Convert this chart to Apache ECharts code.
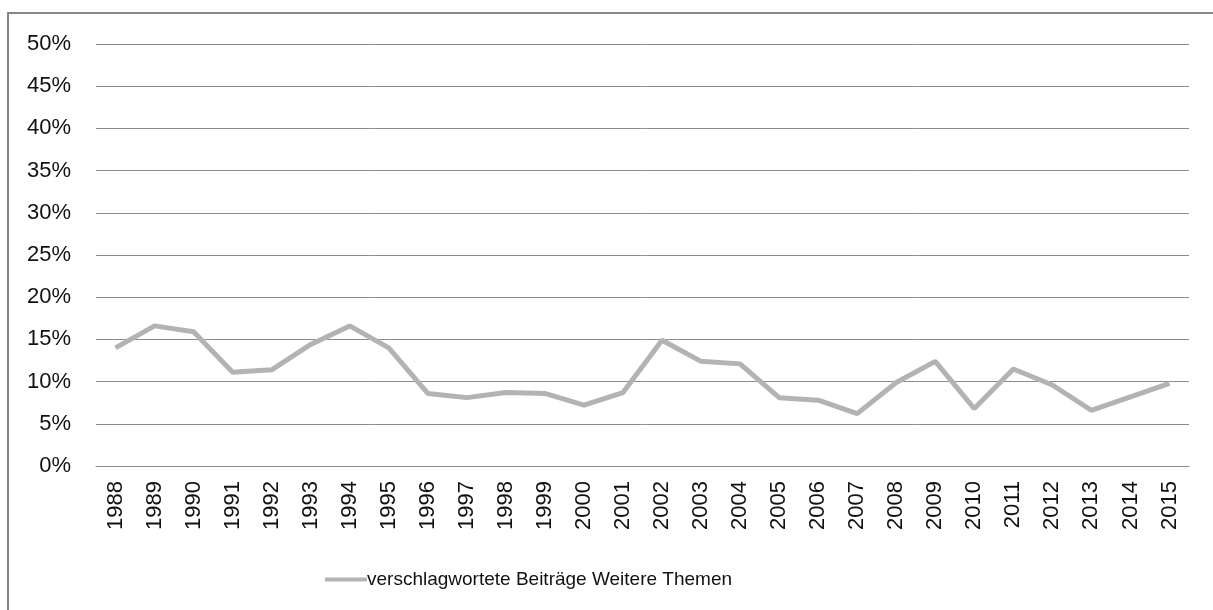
<!DOCTYPE html>
<html><head><meta charset="utf-8">
<script src="https://cdn.jsdelivr.net/npm/echarts@6/dist/echarts.min.js"></script>
<style>html,body{margin:0;padding:0;background:#fff}#c{width:1213px;height:610px}</style>
</head><body><div id="c"></div>
<script>
const years = ['1988','1989','1990','1991','1992','1993','1994','1995','1996','1997','1998','1999','2000','2001','2002','2003','2004','2005','2006','2007','2008','2009','2010','2011','2012','2013','2014','2015'];
const seriesName = 'verschlagwortete Beiträge Weitere Themen';
const values = [14.0,16.6,15.9,11.1,11.4,14.4,16.6,14.0,8.6,8.1,8.7,8.6,7.2,8.7,14.9,12.4,12.1,8.1,7.8,6.2,9.9,12.4,6.8,11.5,9.6,6.6,8.2,9.8];
const yTicks = [0,5,10,15,20,25,30,35,40,45,50];

const font = '"Liberation Sans",sans-serif';
const chart = echarts.init(document.getElementById('c'), null, {renderer:'canvas'});
chart.setOption({
  animation:false,
  backgroundColor:'#fff',
  graphic:[{type:'rect',shape:{x:8,y:13,width:1400,height:800},style:{fill:'none',stroke:'#878787',lineWidth:2},silent:true}],
  grid:{left:96,right:24,top:44,height:422,containLabel:false},
  xAxis:{type:'category',data:years,boundaryGap:true,
    axisLine:{lineStyle:{color:'#8c8c8c',width:1}},axisTick:{show:false},
    axisLabel:{rotate:90,margin:15,color:'#111',fontSize:22,fontFamily:font}},
  yAxis:{type:'value',min:yTicks[0],max:yTicks[yTicks.length-1],interval:5,
    axisLine:{show:false},axisTick:{show:false},
    splitLine:{lineStyle:{color:'#8c8c8c',width:1}},
    axisLabel:{formatter:'{value}%',margin:25,color:'#111',fontSize:22,fontFamily:font}},
  legend:{top:565,left:320,itemWidth:42,itemHeight:4,itemGap:0,icon:'rect',
    textStyle:{fontSize:19,color:'#111',fontFamily:font,padding:[0,0,0,-5]},data:[seriesName]},
  series:[{name:seriesName,type:'line',data:values,symbol:'none',
    lineStyle:{color:'#b3b3b3',width:5},itemStyle:{color:'#b3b3b3'}}]
});
</script></body></html>
